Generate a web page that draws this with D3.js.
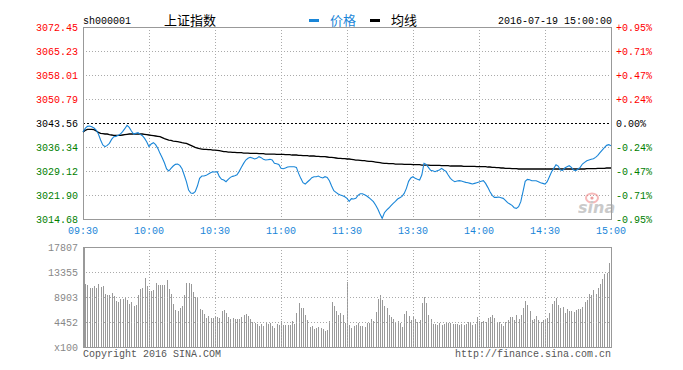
<!DOCTYPE html>
<meta charset="utf-8">
<title>上证指数 分时</title>
<style>
  body { margin: 0; background: #fff; }
  svg { display: block; background: #fff; }
  text { font-family: "Liberation Mono", "DejaVu Sans Mono", monospace; font-size: 10px; }
  .cjk { font-family: "Noto Sans CJK SC", sans-serif; }
</style>
<body>
<div id="chart"></div>
<script src="https://cdnjs.cloudflare.com/ajax/libs/d3/7.8.5/d3.min.js"></script>
<script>

// ---- data ----
var symbol = "sh000001";
var indexName = "上证指数";
var stamp = "2016-07-19 15:00:00";
var prevClose = 3043.56;

var timeLabels = ["09:30", "10:00", "10:30", "11:00", "11:30", "13:30", "14:00", "14:30", "15:00"];
var priceLabels = ["3072.45", "3065.23", "3058.01", "3050.79", "3043.56", "3036.34", "3029.12", "3021.90", "3014.68"];
var pctLabels = ["+0.95%", "+0.71%", "+0.47%", "+0.24%", "0.00%", "-0.24%", "-0.47%", "-0.71%", "-0.95%"];
var volLabels = ["17807", "13355", "8903", "4452", "x100"];

// one value per minute, 09:30 .. 11:30, 13:01 .. 15:00
var price = [
  3040.85, 3041.95, 3042.56, 3042.66, 3042.45, 3042.05, 3041.45, 3040.25, 3038.44, 3036.94,
  3036.44, 3036.84, 3037.44, 3038.64, 3039.45, 3039.55, 3039.85, 3040.25, 3040.95, 3041.85,
  3042.86, 3042.25, 3041.15, 3040.25, 3040.45, 3040.65, 3040.15, 3039.75, 3038.94, 3037.84,
  3036.44, 3037.24, 3037.64, 3037.04, 3035.94, 3034.43, 3033.13, 3031.62, 3029.72, 3029.12,
  3029.92, 3030.62, 3031.12, 3031.22, 3030.82, 3029.82, 3027.91, 3025.91, 3023.40, 3022.50,
  3022.39, 3022.90, 3024.60, 3026.91, 3027.61, 3027.61, 3027.81, 3028.21, 3028.61, 3028.91,
  3028.81, 3028.91, 3027.41, 3026.61, 3026.41, 3025.91, 3026.61, 3027.21, 3027.51, 3027.71,
  3028.01, 3029.01, 3030.22, 3031.42, 3032.42, 3032.93, 3033.23, 3033.03, 3032.73, 3032.93,
  3033.43, 3033.13, 3032.63, 3032.42, 3032.53, 3032.63, 3032.42, 3031.42, 3031.32, 3031.12,
  3029.92, 3029.82, 3030.02, 3030.32, 3030.42, 3030.42, 3030.42, 3030.22, 3028.41, 3026.91,
  3025.60, 3025.20, 3025.81, 3026.41, 3027.11, 3027.41, 3027.41, 3027.61, 3027.21, 3027.01,
  3027.41, 3027.21, 3026.21, 3024.60, 3023.20, 3022.70, 3022.19, 3021.89, 3021.69, 3021.39,
  3020.89, 3019.99, 3020.79, 3020.69, 3020.89, 3021.79, 3022.29, 3022.29, 3021.99, 3021.59,
  3021.09, 3020.49, 3019.89, 3018.88, 3017.68, 3016.18, 3014.87, 3016.58, 3017.38, 3017.98,
  3018.68, 3019.39, 3019.99, 3020.69, 3021.09, 3021.49, 3022.39, 3023.90, 3026.01, 3027.01,
  3027.41, 3026.91, 3026.61, 3026.41, 3027.91, 3031.42, 3031.12, 3030.22, 3029.32, 3029.22,
  3028.91, 3029.22, 3029.42, 3029.92, 3029.42, 3029.01, 3027.91, 3026.91, 3026.31, 3025.91,
  3026.11, 3026.21, 3026.11, 3025.91, 3025.70, 3025.60, 3025.40, 3025.20, 3025.40, 3025.60,
  3025.81, 3026.01, 3026.21, 3025.40, 3024.20, 3022.90, 3021.79, 3021.19, 3021.19, 3021.29,
  3021.09, 3020.89, 3020.29, 3019.59, 3019.19, 3018.78, 3018.08, 3017.88, 3018.38, 3019.89,
  3022.90, 3026.01, 3026.61, 3026.51, 3026.21, 3026.21, 3026.21, 3025.91, 3025.60, 3025.40,
  3025.20, 3025.91, 3027.41, 3028.91, 3029.92, 3031.02, 3030.62, 3029.42, 3029.32, 3030.02,
  3030.42, 3030.72, 3030.22, 3029.42, 3029.22, 3029.72, 3030.22, 3031.22, 3031.72, 3032.22,
  3032.42, 3032.63, 3032.83, 3033.23, 3033.83, 3034.63, 3035.43, 3036.14, 3036.84, 3037.04,
  3036.74
];

var avgPrice = [
  3040.85, 3041.35, 3041.65, 3041.65, 3041.65, 3041.55, 3041.15, 3040.75, 3040.45, 3040.35,
  3040.25, 3040.25, 3040.05, 3039.95, 3039.85, 3039.85, 3039.85, 3039.85, 3039.95, 3040.05,
  3040.15, 3040.25, 3040.25, 3040.25, 3040.25, 3040.25, 3040.25, 3040.25, 3040.15, 3040.05,
  3039.95, 3039.85, 3039.75, 3039.65, 3039.55, 3039.45, 3039.15, 3038.84, 3038.64, 3038.44,
  3038.34, 3038.14, 3038.04, 3037.94, 3037.84, 3037.64, 3037.54, 3037.44, 3037.14, 3036.84,
  3036.54, 3036.24, 3036.04, 3035.84, 3035.73, 3035.63, 3035.63, 3035.53, 3035.53, 3035.43,
  3035.43, 3035.33, 3035.23, 3035.13, 3034.93, 3034.93, 3034.83, 3034.83, 3034.73, 3034.73,
  3034.63, 3034.63, 3034.63, 3034.53, 3034.53, 3034.53, 3034.43, 3034.43, 3034.43, 3034.43,
  3034.33, 3034.33, 3034.33, 3034.23, 3034.23, 3034.23, 3034.23, 3034.23, 3034.13, 3034.13,
  3034.13, 3034.13, 3034.03, 3034.03, 3034.03, 3033.93, 3033.93, 3033.93, 3033.83, 3033.83,
  3033.73, 3033.73, 3033.73, 3033.63, 3033.63, 3033.63, 3033.53, 3033.53, 3033.43, 3033.43,
  3033.43, 3033.33, 3033.23, 3033.23, 3033.13, 3033.03, 3032.93, 3032.93, 3032.83, 3032.83,
  3032.73, 3032.73, 3032.63, 3032.53, 3032.42, 3032.42, 3032.32, 3032.22, 3032.22, 3032.12,
  3032.02, 3032.02, 3031.92, 3031.82, 3031.72, 3031.62, 3031.52, 3031.42, 3031.42, 3031.32,
  3031.32, 3031.32, 3031.22, 3031.22, 3031.22, 3031.22, 3031.12, 3031.12, 3031.12, 3031.12,
  3031.02, 3031.02, 3031.02, 3031.02, 3030.92, 3030.92, 3030.92, 3030.92, 3030.82, 3030.82,
  3030.82, 3030.82, 3030.82, 3030.72, 3030.72, 3030.72, 3030.72, 3030.62, 3030.62, 3030.62,
  3030.62, 3030.62, 3030.62, 3030.52, 3030.52, 3030.52, 3030.52, 3030.52, 3030.52, 3030.42,
  3030.42, 3030.42, 3030.42, 3030.42, 3030.32, 3030.32, 3030.22, 3030.22, 3030.12, 3030.12,
  3030.02, 3030.02, 3029.92, 3029.92, 3029.92, 3029.82, 3029.82, 3029.82, 3029.72, 3029.72,
  3029.72, 3029.72, 3029.72, 3029.72, 3029.72, 3029.72, 3029.72, 3029.72, 3029.72, 3029.72,
  3029.72, 3029.72, 3029.72, 3029.72, 3029.72, 3029.72, 3029.72, 3029.72, 3029.72, 3029.72,
  3029.72, 3029.72, 3029.72, 3029.72, 3029.72, 3029.72, 3029.72, 3029.72, 3029.72, 3029.82,
  3029.82, 3029.82, 3029.82, 3029.82, 3029.92, 3029.92, 3029.92, 3029.92, 3030.02, 3030.02,
  3030.02
];

// volume in lots of 100
var volume = [
  11200, 11218, 11040, 10566, 10566, 10862, 10566, 11218, 10744, 10862,
  9438, 9200, 9200, 9556, 9141, 8191, 8073, 8547, 8488, 8844,
  8369, 7657, 8013, 7301, 7479, 9260, 10328, 10506, 12346, 10922,
  9972, 9972, 10210, 11397, 11040, 11040, 11040, 11040, 11990, 10328,
  9438, 7657, 6648, 6411, 6885, 7301, 9260, 11397, 11397, 11218,
  9853, 8903, 8903, 6767, 6648, 5936, 5164, 5520, 5164, 5164,
  5342, 5401, 5164, 6411, 6589, 6114, 5401, 5045, 5164, 4986,
  4986, 5045, 5342, 5758, 5876, 5520, 5045, 4452, 4333, 4096,
  3799, 4096, 3739, 4274, 4096, 4274, 3739, 3383, 4096, 3864,
  4576, 3918, 3918, 3918, 3918, 4630, 4096, 6054, 7835, 6945,
  6945, 5698, 4808, 3561, 3739, 3205, 3383, 3561, 3383, 3205,
  2849, 3027, 4630, 8013, 7301, 6411, 5698, 6054, 5698, 4274,
  11575, 3918, 3383, 3739, 3918, 4274, 3739, 3739, 3561, 4274,
  4274, 4986, 4630, 6232, 8547, 9260, 8369, 7301, 6945, 5698,
  5342, 4986, 4452, 4630, 4274, 3561, 5876, 6411, 5520, 4808,
  5342, 4986, 4452, 4808, 7835, 8903, 7835, 5698, 4986, 4096,
  4096, 3918, 4274, 3918, 4096, 4452, 4274, 4274, 4096, 4096,
  4096, 3918, 4096, 3918, 4096, 4452, 4274, 3918, 4096, 5342,
  4630, 4452, 4570, 4452, 5164, 5342, 5698, 5164, 4452, 4452,
  4096, 3739, 4452, 4808, 5342, 5342, 4808, 5698, 4986, 5698,
  6945, 8191, 7479, 6411, 4808, 4986, 5520, 4808, 4452, 4808,
  4986, 5164, 6054, 7657, 8191, 8725, 7479, 6945, 7123, 6054,
  6767, 6411, 6411, 6232, 6589, 6767, 6767, 7123, 8013, 8369,
  9438, 9260, 10150, 9438, 10506, 11218, 12109, 12999, 13177, 14958,
  17200
];

// ---- layout ----
var width = 683, height = 370;
var left = 83, right = 611;
var pTop = 27, pBottom = 219;
var vTop = 247, vBottom = 347;

var colorUp = "#ff0000", colorDown = "#008000", colorFlat = "#000000";
var blue = "#1a86d8", gridGrey = "#aaaaaa", frameGrey = "#999999";

var svg = d3.select("#chart").append("svg")
    .attr("width", width)
    .attr("height", height);

// x: one slot per minute
var x = d3.scaleLinear().domain([0, price.length - 1]).range([left, right]);
var tickIdx = timeLabels.map(function(d, i) { return i * 30; });

// y for price panel
var y = d3.scaleLinear()
    .domain([+priceLabels[priceLabels.length - 1], +priceLabels[0]])
    .range([pBottom, pTop]);

// y for volume panel
var yv = d3.scaleLinear().domain([0, +volLabels[0]]).range([vBottom, vTop]);
var volTicks = [+volLabels[0], +volLabels[1], +volLabels[2], +volLabels[3], 0];

// ---------- header ----------
svg.append("text").attr("x", left).attr("y", 24).text(symbol);
svg.append("text").attr("class", "cjk").attr("x", 164).attr("y", 25)
    .style("font-size", "13px").text(indexName);

svg.append("rect").attr("x", 309).attr("y", 19).attr("width", 10).attr("height", 3).attr("fill", blue);
svg.append("text").attr("class", "cjk").attr("x", 330).attr("y", 25)
    .style("font-size", "13px").attr("fill", blue).text("价格");
svg.append("rect").attr("x", 370).attr("y", 19).attr("width", 10).attr("height", 3).attr("fill", "#000");
svg.append("text").attr("class", "cjk").attr("x", 391).attr("y", 25)
    .style("font-size", "13px").text("均线");

svg.append("text").attr("x", right + 1).attr("y", 24).attr("text-anchor", "end").text(stamp);

// ---------- price panel grid ----------
var pg = svg.append("g").attr("shape-rendering", "crispEdges");

priceLabels.forEach(function(p, i) {
  var yy = Math.round(y(+p)) + 0.5;
  if (i == 0 || i == priceLabels.length - 1) return;
  pg.append("line")
    .attr("x1", left).attr("x2", right).attr("y1", yy).attr("y2", yy)
    .attr("stroke", +p == prevClose ? "#000" : gridGrey)
    .attr("stroke-dasharray", +p == prevClose ? "2,2" : "1,2");
});

tickIdx.slice(1, -1).forEach(function(t) {
  var xx = Math.round(x(t)) + 0.5;
  pg.append("line").attr("x1", xx).attr("x2", xx).attr("y1", pTop).attr("y2", pBottom)
    .attr("stroke", gridGrey).attr("stroke-dasharray", "1,2");
});

pg.append("rect")
    .attr("x", left + 0.5).attr("y", pTop + 0.5)
    .attr("width", right - left).attr("height", pBottom - pTop)
    .attr("fill", "none").attr("stroke", frameGrey);

// left / right labels
priceLabels.forEach(function(p, i) {
  var c = +p > prevClose ? colorUp : (+p < prevClose ? colorDown : colorFlat);
  svg.append("text").attr("x", 78).attr("y", y(+p) + 4)
      .attr("text-anchor", "end").attr("fill", c).text(p);
  svg.append("text").attr("x", 616).attr("y", y(+p) + 4)
      .attr("fill", c).text(pctLabels[i]);
});

// time labels
timeLabels.forEach(function(t, i) {
  svg.append("text").attr("x", x(tickIdx[i])).attr("y", 234)
      .attr("text-anchor", "middle").attr("fill", blue).text(t);
});

// sina watermark
var wm = svg.append("g").attr("opacity", 0.55);
wm.append("ellipse").attr("cx", 592).attr("cy", 198).attr("rx", 6).attr("ry", 4.5)
    .attr("fill", "none").attr("stroke", "#f08080").attr("stroke-width", 2);
wm.append("circle").attr("cx", 592).attr("cy", 198).attr("r", 1.6).attr("fill", "#e05050");
wm.append("text").attr("x", 578).attr("y", 213)
    .style("font-family", "'DejaVu Sans', sans-serif").style("font-size", "16px")
    .style("font-style", "italic").style("font-weight", "bold")
    .attr("fill", "#a0a0a0").text("sina");

// ---------- price lines ----------
var line = d3.line()
    .x(function(d, i) { return x(i); })
    .y(function(d) { return y(d); });

svg.append("path").datum(avgPrice)
    .attr("fill", "none").attr("stroke", "#000").attr("stroke-width", 1.3)
    .attr("d", line);

svg.append("path").datum(price)
    .attr("fill", "none").attr("stroke", blue).attr("stroke-width", 1.1)
    .attr("d", line);

// ---------- volume panel ----------
var vg = svg.append("g").attr("shape-rendering", "crispEdges");

vg.selectAll("rect.bar")
    .data(volume)
  .enter().append("rect")
    .attr("class", "bar")
    .attr("x", function(d, i) { return Math.round(x(i)); })
    .attr("y", function(d) { return Math.round(yv(d)); })
    .attr("width", 1)
    .attr("height", function(d) { return vBottom - Math.round(yv(d)); })
    .attr("fill", "#999999");

volTicks.slice(1, -1).forEach(function(v) {
  var yy = Math.round(yv(v)) + 0.5;
  vg.append("line").attr("x1", left).attr("x2", right).attr("y1", yy).attr("y2", yy)
    .attr("stroke", gridGrey).attr("stroke-dasharray", "1,2");
});
tickIdx.slice(1, -1).forEach(function(t) {
  var xx = Math.round(x(t)) + 0.5;
  vg.append("line").attr("x1", xx).attr("x2", xx).attr("y1", vTop).attr("y2", vBottom)
    .attr("stroke", gridGrey).attr("stroke-dasharray", "1,2");
});

vg.append("rect")
    .attr("x", left + 0.5).attr("y", vTop + 0.5)
    .attr("width", right - left).attr("height", vBottom - vTop)
    .attr("fill", "none").attr("stroke", frameGrey);
vg.append("line").attr("x1", left + 1.5).attr("x2", left + 1.5).attr("y1", vTop).attr("y2", vBottom)
    .attr("stroke", frameGrey);

volLabels.forEach(function(v, i) {
  svg.append("text").attr("x", 78).attr("y", yv(volTicks[i]) + 4)
      .attr("text-anchor", "end").attr("fill", "#888").text(v);
});

// footer
svg.append("text").attr("x", left).attr("y", 357).attr("fill", "#555").text("Copyright 2016 SINA.COM");
svg.append("text").attr("x", right).attr("y", 357).attr("text-anchor", "end")
    .attr("fill", "#555").text("http://finance.sina.com.cn");

</script>
</body>
